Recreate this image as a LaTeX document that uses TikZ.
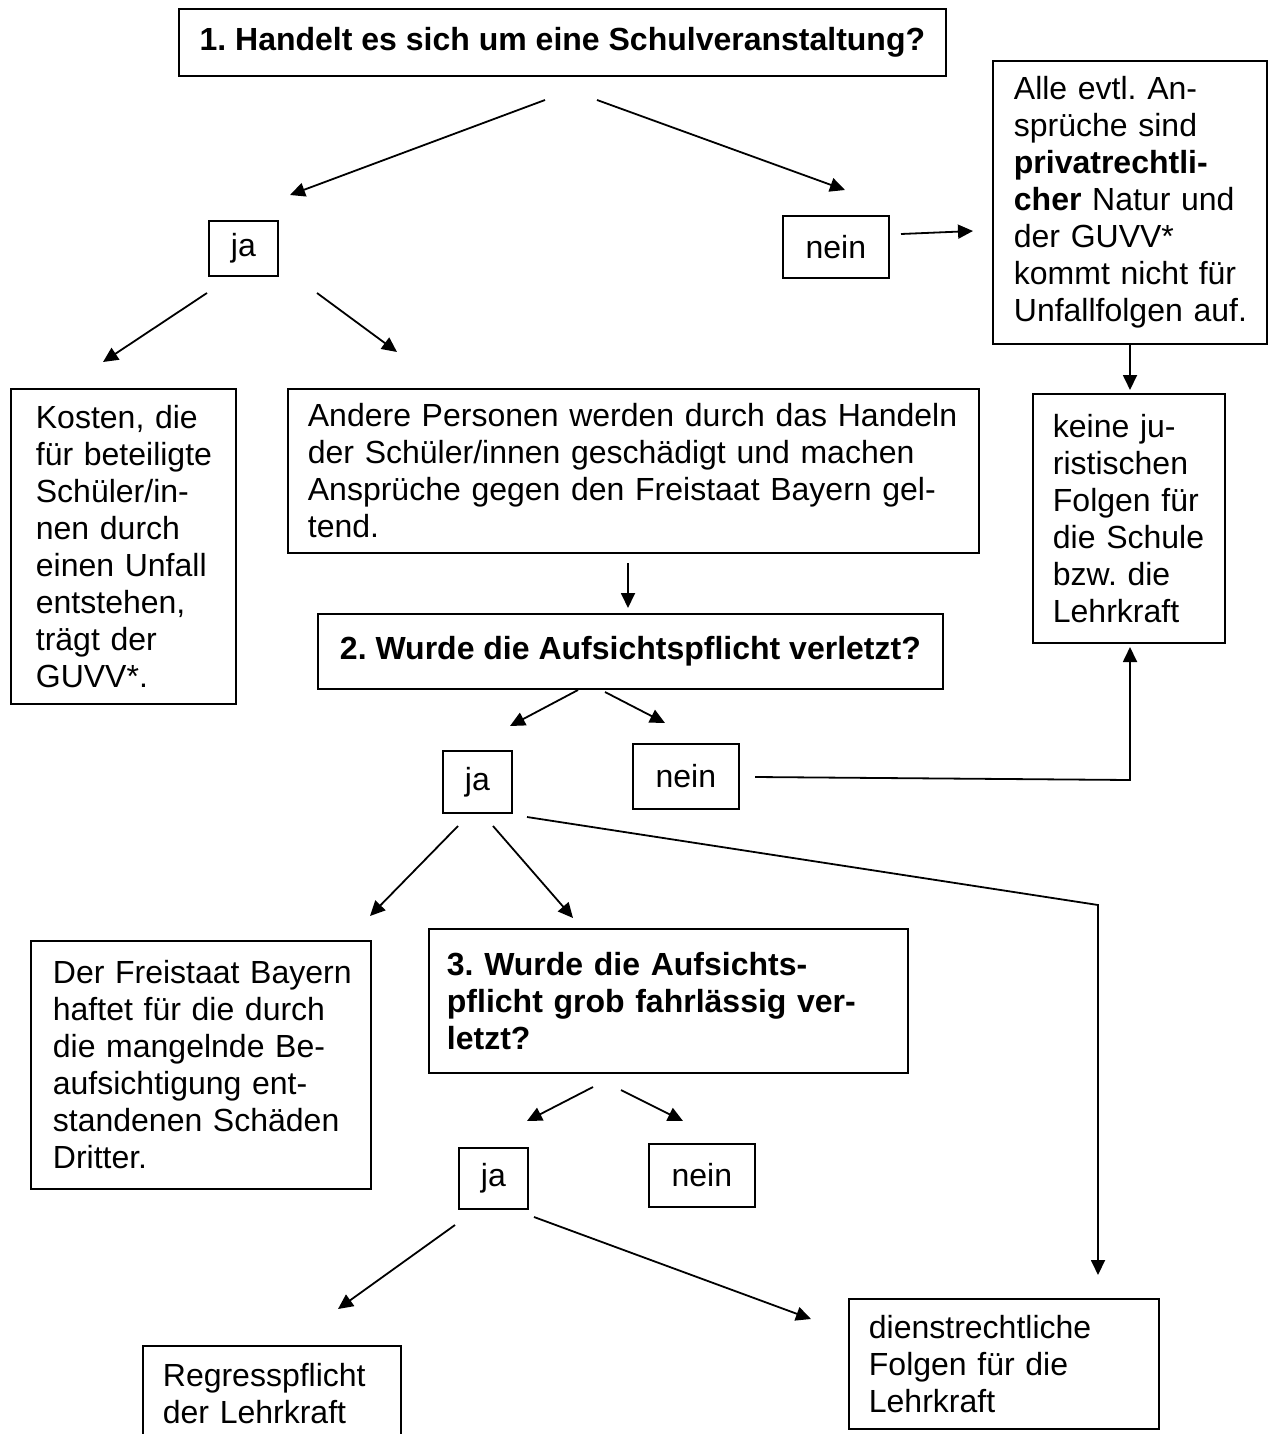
\documentclass[tikz,border=0pt]{standalone}
\usepackage{fontspec}
\setmainfont{Liberation Sans}
\frenchspacing
\usetikzlibrary{arrows.meta}
\tikzset{
  box/.style={draw, line width=1.8pt, anchor=north west, inner ysep=0pt,
    font=\fontsize{32}{37}\selectfont\frenchspacing},
  lbox/.style={box, align=left, inner xsep=20pt},
  cbox/.style={box, align=center, inner xsep=0pt},
  conn/.style={line width=1.8pt, -{Triangle[length=15pt,width=14pt]}},
  plain/.style={line width=1.8pt}
}
\begin{document}
\begin{tikzpicture}[x=1pt,y=-1pt]
\useasboundingbox (0,0) rectangle (1269,1434);
\clip (0,0) rectangle (1269,1434);
\fill[white] (0,0) rectangle (1269,1434);

% question boxes
\node[cbox, minimum width=767pt, minimum height=67pt] (q1) at (178,8) {\bfseries 1. Handelt es sich um eine Schulveranstaltung?};
\node[cbox, minimum width=625pt, minimum height=75pt] (q2) at (317,613) {\bfseries 2. Wurde die Aufsichtspflicht verletzt?};
\node[lbox, minimum width=479pt, text width=443pt, inner xsep=18pt, minimum height=144pt] (q3) at (428,928)
  {\mbox{\bfseries 3. Wurde die Aufsichts-}\\ \mbox{\bfseries pflicht grob fahrlässig ver-}\\ \mbox{\bfseries letzt?}};

% ja / nein boxes
\node[cbox, minimum width=69pt, minimum height=55pt] (ja1) at (208,220) {ja};
\node[cbox, minimum width=106pt, minimum height=62pt] (nein1) at (782,215) {nein};
\node[cbox, minimum width=69pt, minimum height=62pt] (ja2) at (442,750) {ja};
\node[cbox, minimum width=106pt, minimum height=65pt] (nein2) at (632,743) {nein};
\node[cbox, minimum width=69pt, minimum height=61pt] (ja3) at (458,1147) {ja};
\node[cbox, minimum width=106pt, minimum height=63pt] (nein3) at (648,1143) {nein};

% result boxes
\node[lbox, minimum width=274pt, text width=232pt, inner xsep=21pt, minimum height=283pt] (priv) at (992,60)
  {\mbox{Alle evtl. An-}\\ \mbox{sprüche sind}\\ \mbox{\textbf{privatrechtli-}}\\ \mbox{\textbf{cher} Natur und}\\ \mbox{der GUVV*}\\ \mbox{kommt nicht für}\\ \mbox{Unfallfolgen auf.}};
\node[lbox, minimum width=192pt, text width=152pt, inner xsep=20pt, minimum height=249pt] (keine) at (1032,393)
  {\mbox{keine ju-}\\ \mbox{ristischen}\\ \mbox{Folgen für}\\ \mbox{die Schule}\\ \mbox{bzw. die}\\ \mbox{Lehrkraft}};
\node[lbox, minimum width=225pt, text width=175pt, inner xsep=25pt, minimum height=315pt] (kosten) at (10,388)
  {\mbox{Kosten, die}\\ \mbox{für beteiligte}\\ \mbox{Schüler/in-}\\ \mbox{nen durch}\\ \mbox{einen Unfall}\\ \mbox{entstehen,}\\ \mbox{trägt der}\\ \mbox{GUVV*.}};
\node[lbox, minimum width=691pt, text width=651pt, inner xsep=20pt, minimum height=164pt] (andere) at (287,388)
  {\mbox{Andere Personen werden durch das Handeln}\\ \mbox{der Schüler/innen geschädigt und machen}\\ \mbox{Ansprüche gegen den Freistaat Bayern gel-}\\ \mbox{tend.}};
\node[lbox, minimum width=340pt, text width=296pt, inner xsep=22pt, minimum height=248pt] (frei) at (30,940)
  {\mbox{Der Freistaat Bayern}\\ \mbox{haftet für die durch}\\ \mbox{die mangelnde Be-}\\ \mbox{aufsichtigung ent-}\\ \mbox{standenen Schäden}\\ \mbox{Dritter.}};
\node[lbox, minimum width=258pt, text width=218pt, inner xsep=20pt, minimum height=96pt] (regress) at (142,1345)
  {\mbox{Regresspflicht}\\ \mbox{der Lehrkraft}};
\node[lbox, minimum width=310pt, text width=270pt, inner xsep=20pt, minimum height=130pt] (dienst) at (848,1298)
  {\mbox{dienstrechtliche}\\ \mbox{Folgen für die}\\ \mbox{Lehrkraft}};

% arrow coordinates
\coordinate (a1s) at (545,100);  \coordinate (a1e) at (290,195);
\coordinate (a2s) at (597,100);  \coordinate (a2e) at (845,190);
\coordinate (a3s) at (901,234);  \coordinate (a3e) at (973,231);
\coordinate (a4s) at (207,293);  \coordinate (a4e) at (103,362);
\coordinate (a5s) at (317,293);  \coordinate (a5e) at (397,352);
\coordinate (a6s) at (1130,345); \coordinate (a6e) at (1130,390);
\coordinate (a7s) at (628,563);  \coordinate (a7e) at (628,608);
\coordinate (a8s) at (578,690);  \coordinate (a8e) at (510,726);
\coordinate (a9s) at (605,692);  \coordinate (a9e) at (665,723);
\coordinate (b1s) at (755,777);  \coordinate (b1m) at (1130,780); \coordinate (b1e) at (1130,647);
\coordinate (b2s) at (527,817);  \coordinate (b2m) at (1098,905); \coordinate (b2e) at (1098,1275);
\coordinate (b3s) at (458,826);  \coordinate (b3e) at (370,916);
\coordinate (b4s) at (493,826);  \coordinate (b4e) at (573,918);
\coordinate (b5s) at (593,1087); \coordinate (b5e) at (527,1121);
\coordinate (b6s) at (621,1090); \coordinate (b6e) at (683,1121);
\coordinate (b7s) at (455,1225); \coordinate (b7e) at (338,1309);
\coordinate (b8s) at (534,1217); \coordinate (b8e) at (811,1319);

\draw[conn] (a1s) -- (a1e);
\draw[conn] (a2s) -- (a2e);
\draw[conn] (a3s) -- (a3e);
\draw[conn] (a4s) -- (a4e);
\draw[conn] (a5s) -- (a5e);
\draw[conn] (a6s) -- (a6e);
\draw[conn] (a7s) -- (a7e);
\draw[conn] (a8s) -- (a8e);
\draw[conn] (a9s) -- (a9e);
\draw[conn] (b1s) -- (b1m) -- (b1e);
\draw[conn] (b2s) -- (b2m) -- (b2e);
\draw[conn] (b3s) -- (b3e);
\draw[conn] (b4s) -- (b4e);
\draw[conn] (b5s) -- (b5e);
\draw[conn] (b6s) -- (b6e);
\draw[conn] (b7s) -- (b7e);
\draw[conn] (b8s) -- (b8e);
\end{tikzpicture}
\end{document}
